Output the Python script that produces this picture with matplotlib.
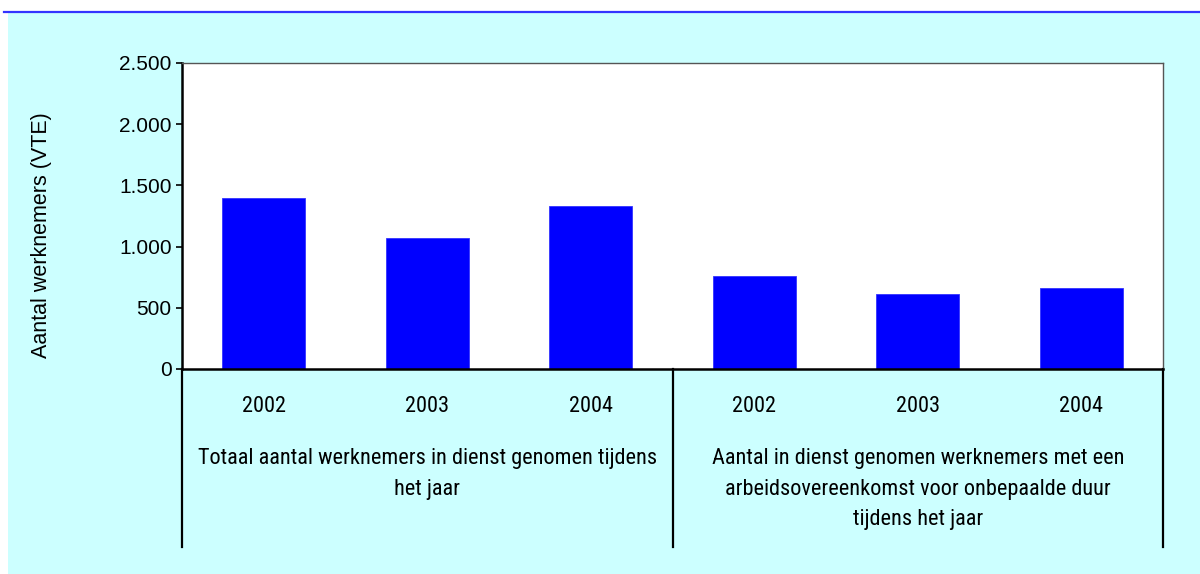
import matplotlib
matplotlib.use("Agg")
import matplotlib.pyplot as plt
from matplotlib import font_manager
from matplotlib.lines import Line2D
from matplotlib.patches import Rectangle
from matplotlib.ticker import FuncFormatter

# --- data ---
years = ["2002", "2003", "2004", "2002", "2003", "2004"]
values = [1397, 1070, 1332, 760, 613, 662]
groups = [
    "Totaal aantal werknemers in dienst genomen tijdens\nhet jaar",
    "Aantal in dienst genomen werknemers met een\narbeidsovereenkomst voor onbepaalde duur\ntijdens het jaar",
]
yticks = [0, 500, 1000, 1500, 2000, 2500]
ylabel = "Aantal werknemers (VTE)"

# smalle letter voor de categorie-as (Arial Narrow-achtig)
names = {f.name for f in font_manager.fontManager.ttflist}
narrow = next((n for n in ["Liberation Sans Narrow", "Arimo Narrow", "Roboto Condensed", "PT Sans Narrow"]
               if n in names), "Liberation Sans")
plt.rcParams['font.family'] = ['Liberation Sans', 'DejaVu Sans']

W, H = 1200, 574
fig = plt.figure(figsize=(W / 100, H / 100), dpi=100, facecolor="white")

# achtergrondvlak en blauwe lijn bovenaan
fig.add_artist(Rectangle((8 / W, 0), 1 - 8 / W, 1 - 13 / H, transform=fig.transFigure,
                         facecolor="#CCFFFF", edgecolor="none", zorder=0))
fig.add_artist(Line2D([4 / W, 1], [1 - 12 / H, 1 - 12 / H], transform=fig.transFigure,
                      color="#3333FF", lw=1.6, zorder=1))

x0, x1, y0, y1 = 182, 1163, 63, 369
ax = fig.add_axes([x0 / W, 1 - y1 / H, (x1 - x0) / W, (y1 - y0) / H])
ax.set_facecolor("white")

pos = list(range(len(values)))
ax.bar(pos, values, width=0.51, color="#0000FF", edgecolor="#3333FF", linewidth=0.6, zorder=2)

ax.set_xlim(-0.5, len(values) - 0.5)
ax.set_ylim(0, 2500)
ax.set_yticks(yticks)
ax.yaxis.set_major_formatter(FuncFormatter(lambda v, p: f"{v:,.0f}".replace(",", ".")))
ax.tick_params(axis="y", direction="out", length=4.5, width=1.2, labelsize=15, pad=3, color="black")
ax.set_xticks([])

for s in ["top", "right"]:
    ax.spines[s].set_color("#555555")
    ax.spines[s].set_linewidth(1.0)
for s in ["left", "bottom"]:
    ax.spines[s].set_color("black")
    ax.spines[s].set_linewidth(1.8)

# categorie-as: jaren, groepslabels en scheidingslijnen
tr = ax.get_xaxis_transform()
sep_bottom = (y1 - 547) / (y1 - y0)
for xs in [-0.5, 2.5, 5.5]:
    ax.plot([xs, xs], [0, sep_bottom], transform=tr, color="black", lw=1.6, clip_on=False)

ylab_y = (y1 - 407) / (y1 - y0)
for p, yr in zip(pos, years):
    ax.text(p, ylab_y, yr, transform=tr, ha="center", va="center", fontsize=16, family=narrow)

grp_top = (y1 - 448) / (y1 - y0)
for i, g in enumerate(groups):
    ax.text(3 * i + 1, grp_top, g, transform=tr, ha="center", va="top", fontsize=16,
            family=narrow, linespacing=1.6)

fig.text(42 / W, 1 - 235 / H, ylabel, rotation=90, ha="center", va="center", fontsize=15.5)

fig.savefig("out.png", dpi=100, facecolor=fig.get_facecolor())
